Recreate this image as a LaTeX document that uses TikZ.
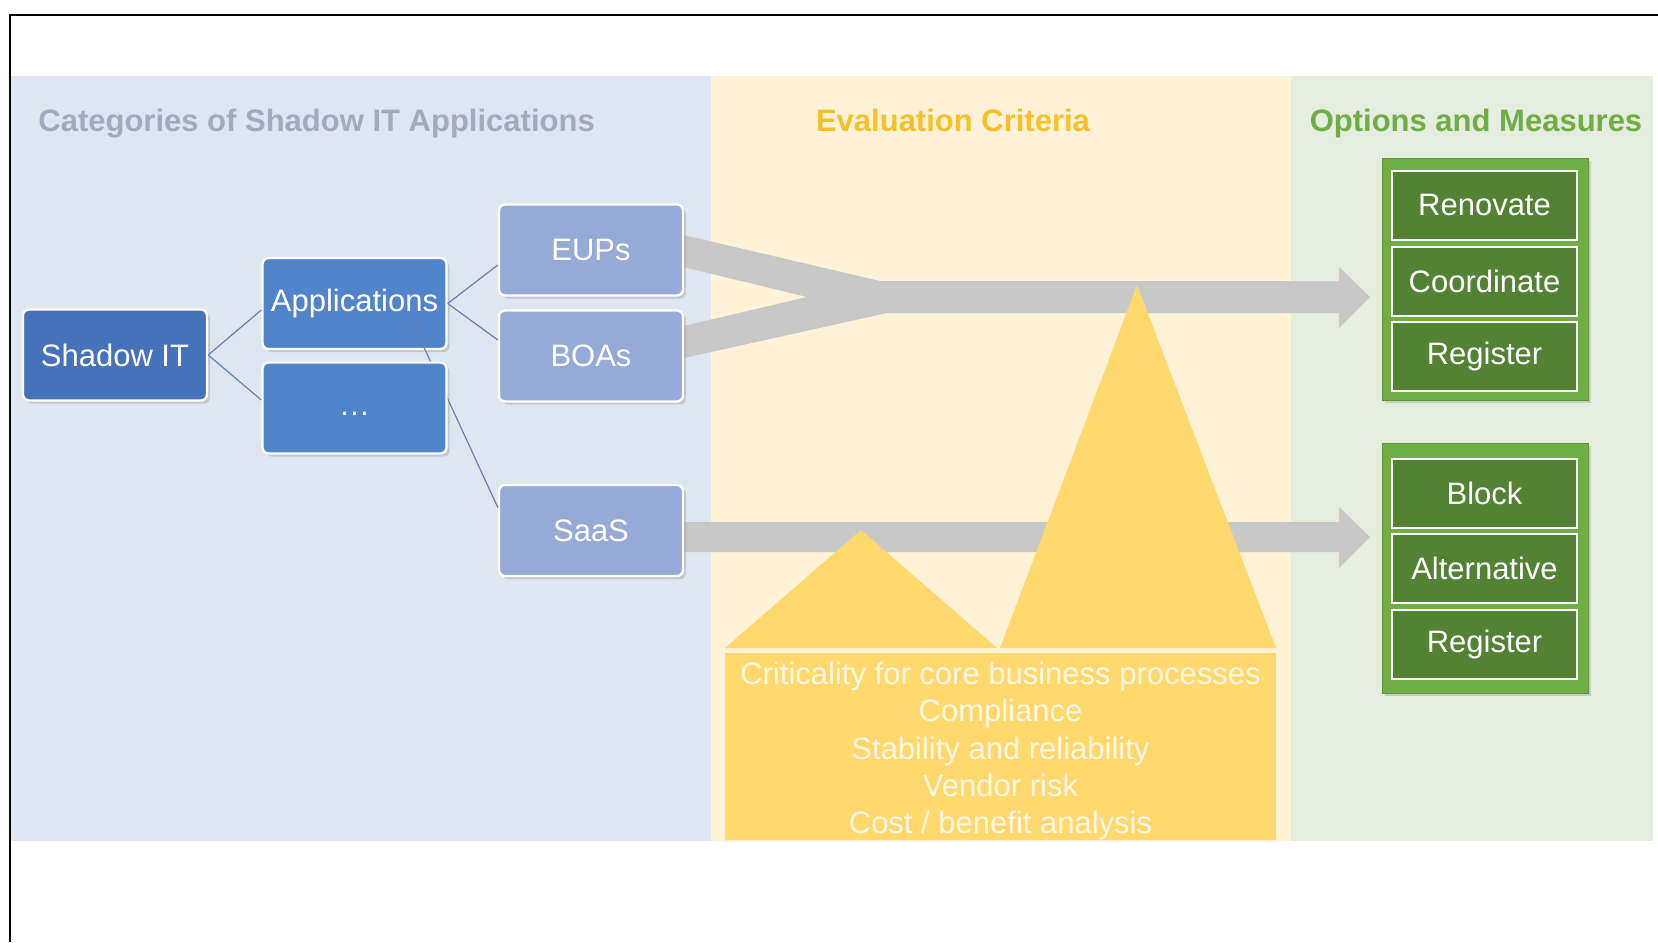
\documentclass[tikz,border=0pt]{standalone}
\usepackage{fontspec}
\setmainfont{Liberation Sans}
\usetikzlibrary{shadows,calc}
\definecolor{bluepanel}{RGB}{222,230,242}
\definecolor{yellowpanel}{RGB}{255,242,215}
\definecolor{greenpanel}{RGB}{228,237,222}
\definecolor{titleblue}{RGB}{160,171,189}
\definecolor{titlegold}{RGB}{246,192,40}
\definecolor{titlegreen}{RGB}{112,173,71}
\definecolor{darkblue}{RGB}{70,114,186}
\definecolor{midblue}{RGB}{82,132,204}
\definecolor{lightblue}{RGB}{150,170,215}
\definecolor{arrowgray}{RGB}{200,200,200}
\definecolor{crityellow}{RGB}{255,217,110}
\definecolor{crittext}{RGB}{255,247,228}
\definecolor{outergreen}{RGB}{112,173,71}
\definecolor{outeredge}{RGB}{95,150,60}
\definecolor{innergreen}{RGB}{84,130,53}
\definecolor{conncolor}{RGB}{105,128,180}
\tikzset{
  txt/.style={font=\fontsize{15.5pt}{18.65pt}\selectfont},
  title/.style={font=\fontsize{15.5pt}{18.65pt}\selectfont\bfseries, anchor=base, inner sep=0pt},
  bluebox/.style={txt, text=white, draw=white, line width=1.2pt, rounded corners=3pt,
    minimum width=92pt, minimum height=45.5pt, inner sep=0pt,
    drop shadow={opacity=0.3, shadow xshift=1.5pt, shadow yshift=-1.5pt}},
  outerbox/.style={fill=outergreen, draw=outeredge, line width=0.5pt,
    minimum width=103pt, inner sep=0pt,
    drop shadow={opacity=0.3, shadow xshift=1.5pt, shadow yshift=-1.5pt}},
  innerbox/.style={txt, text=white, fill=innergreen, draw=white, line width=1pt,
    minimum width=92.5pt, minimum height=34.5pt, inner sep=0pt},
  conn/.style={draw=conncolor, line width=0.6pt},
  grayarrow/.style={fill=arrowgray},
  peak/.style={fill=crityellow}
}
\begin{document}
\begin{tikzpicture}[x=0.5pt,y=-0.5pt]
\useasboundingbox (0,0) rectangle (1658,942);
\fill[white] (0,0) rectangle (1658,942);
% panels
\fill[bluepanel] (10,76) rectangle (711,841);
\fill[yellowpanel] (711,76) rectangle (1291,841);
\fill[greenpanel] (1291,76) rectangle (1653,841);
% frame
\draw[black, line width=0.75pt] (10,942) -- (10,15) -- (1658,15);
% titles
\node[title, text=titleblue, anchor=base west] (t1) at (38,131) {Categories of Shadow IT Applications};
\node[title, text=titlegold] (t2) at (953,131) {Evaluation Criteria};
\node[title, text=titlegreen] (t3) at (1476,131) {Options and Measures};
% gray arrows
\fill[grayarrow] (675,233) -- (880,281) -- (1339,281) -- (1339,267) -- (1370,297)
  -- (1339,328) -- (1339,313) -- (887,313) -- (675,360) -- (675,328) -- (807,297)
  -- (675,265) -- cycle;
\fill[grayarrow] (675,522) -- (1339,522) -- (1339,507) -- (1370,537) -- (1339,568)
  -- (1339,552) -- (675,552) -- cycle;
% yellow peaks and criteria box
\fill[peak] (725,648) -- (861,530) -- (997,648) -- cycle;
\fill[peak] (1000,648) -- (1137,285) -- (1276,648) -- cycle;
\node[fill=crityellow, draw=yellowpanel, line width=0.8pt,
  minimum width=276.5pt, minimum height=94.5pt, inner sep=0pt]
  (crit) at (1000.5,746.5) {};
\node[txt, text=crittext, inner sep=0pt, align=center] (critlist) at (1000.5,751)
  {Criticality for core business processes\\Compliance\\Stability and reliability\\Vendor risk\\Cost / benefit analysis};
% blue hierarchy
\node[bluebox, fill=darkblue] (shadow) at (115,355) {Shadow IT};
\node[bluebox, fill=midblue] (app) at (354.5,303.5) {Applications};
\node[bluebox, fill=lightblue] (eups) at (591,250) {EUPs};
\node[bluebox, fill=lightblue] (boas) at (591,356) {BOAs};
\node[bluebox, fill=lightblue] (saas) at (591,530.5) {SaaS};
\draw[conn] ($(app.center)+(55.5,13.5)$) -- ($(saas.west)+(0,-23)$);
\node[bluebox, fill=midblue] (dots) at (354.5,408) {\vphantom{Ag}…};
\draw[conn] (shadow.east) -- ($(app.west)+(0,6.5)$);
\draw[conn] (shadow.east) -- ($(dots.west)+(0,-8)$);
\draw[conn] (app.east) -- ($(eups.west)+(0,15)$);
\draw[conn] (app.east) -- ($(boas.west)+(0,-16)$);
% green option boxes
\node[outerbox, minimum height=121pt] (opt1) at (1485,279) {};
\node[innerbox] (renovate) at (1484.5,205) {Renovate};
\node[innerbox] (coordinate) at (1484.5,281) {Coordinate};
\node[innerbox] (register1) at (1484.5,356.5) {Register};
\node[outerbox, minimum height=125pt] (opt2) at (1485,568) {};
\node[innerbox] (block) at (1484.5,493) {Block};
\node[innerbox] (alternative) at (1484.5,568.5) {Alternative};
\node[innerbox] (register2) at (1484.5,644.5) {Register};
\end{tikzpicture}
\end{document}
